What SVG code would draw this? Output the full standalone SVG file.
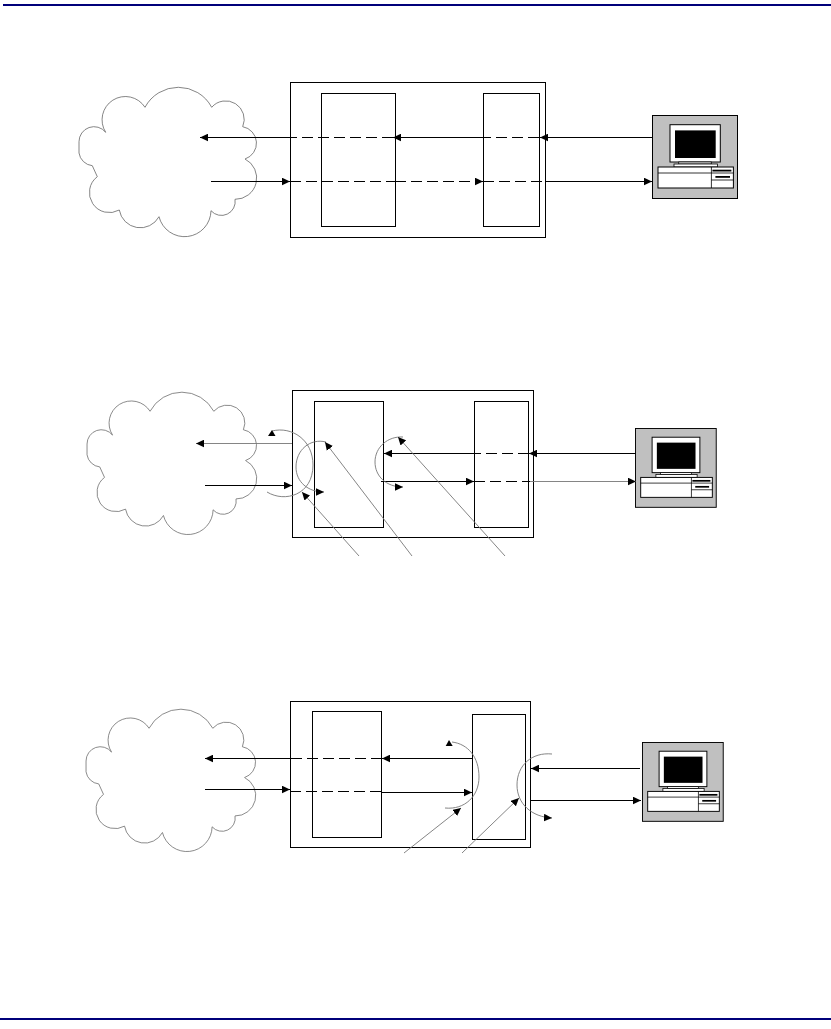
<svg xmlns="http://www.w3.org/2000/svg" width="831" height="1029" viewBox="0 0 831 1029">
<style>
.box{fill:none;stroke:#000;stroke-width:1}
.cloud{fill:#fff;stroke:#666;stroke-width:.8;vector-effect:non-scaling-stroke}
.s{fill:none;stroke:#000;stroke-width:1}
.d{fill:none;stroke:#000;stroke-width:1;stroke-dasharray:11 5}
.g{fill:none;stroke:#777;stroke-width:.9}
.a{marker-end:url(#h)}
.rule{fill:#00007a}
.t{fill:#000}
</style>
<defs>
<marker id="h" markerUnits="userSpaceOnUse" markerWidth="9" markerHeight="8" refX="8" refY="4" orient="auto"><path d="M0,0.2L8,4L0,7.8z" fill="#000"/></marker>
<path id="cl" d="M145,107.3A37.8,37.8 0 0 1 211.7,107.3A18.5,18.5 0 0 1 242.7,126.7A16.7,16.7 0 0 1 245,159A21.3,21.3 0 0 1 235,199.3A13.8,13.8 0 0 1 211,210.7A26.4,26.4 0 0 1 159,216.7A21.3,21.3 0 0 1 119.3,210A20,20 0 0 1 97.3,176.7L92.3,165.7A15,15 0 0 1 79,153L79,141.7A15,15 0 0 1 105.7,132.3A22,22 0 0 1 145,107.3z"/>
<g id="pc">
<rect x=".5" y=".5" width="85" height="83" fill="#c0c0c0" stroke="#000"/>
<rect x="18" y="9.7" width="50.3" height="37.3" fill="#fff" stroke="#000"/>
<rect x="23" y="15.4" width="40.7" height="27.6" fill="#000"/>
<rect x="26.7" y="47" width="32.6" height="2" fill="#fff" stroke="#000" stroke-width=".8"/>
<rect x="22" y="49" width="43.4" height="3" fill="#fff" stroke="#000" stroke-width=".8"/>
<rect x="6" y="52" width="75.4" height="21" fill="#fff" stroke="#000"/>
<path d="M59.4,52V73M6,58H81.4M59.4,65H81.4" fill="none" stroke="#000" stroke-width=".8"/>
<rect x="60.4" y="54.7" width="19" height="1.8" fill="#000"/>
<rect x="63.4" y="61" width="14.6" height="1.8" fill="#000"/>
</g>
</defs>
<rect width="831" height="1029" fill="#fff"/>
<rect class="rule" x="3" y="4" width="828" height="2"/>
<rect class="rule" x="0" y="1018" width="831" height="2"/>

<g id="cloud-1"><use href="#cl" class="cloud"/></g>
<g id="device-1"><rect class="box" x="290.5" y="82.5" width="255" height="155"/></g>
<g id="block-1a"><rect class="box" x="321.5" y="93.5" width="74" height="133"/></g>
<g id="block-1b"><rect class="box" x="483.5" y="93.5" width="56" height="133"/></g>
<g id="pc-1"><use href="#pc" transform="translate(652,115)"/></g>

<g id="cloud-2"><use href="#cl" class="cloud" transform="translate(11.6,309) scale(.955,.953)"/></g>
<g id="device-2"><rect class="box" x="292.5" y="390.5" width="241" height="147"/></g>
<g id="block-2a"><rect class="box" x="314.5" y="401.5" width="69" height="126"/></g>
<g id="block-2b"><rect class="box" x="474.5" y="401.5" width="54" height="126"/></g>
<g id="pc-2"><use href="#pc" transform="translate(635,428) scale(.95)"/></g>

<g id="cloud-3"><use href="#cl" class="cloud" transform="translate(10.6,626) scale(.955,.953)"/></g>
<g id="device-3"><rect class="box" x="290.5" y="701.5" width="240" height="146"/></g>
<g id="block-3a"><rect class="box" x="312.5" y="711.5" width="69" height="126"/></g>
<g id="block-3b"><rect class="box" x="472.5" y="714.5" width="53" height="125"/></g>
<g id="pc-3"><use href="#pc" transform="translate(642,742) scale(.95)"/></g>

<g id="connectors">
<path class="s a" d="M652,137.5H540"/>
<path class="d" d="M539,137.5H483.5"/>
<path class="s a" d="M483.5,137.5H393"/>
<path class="d" d="M393,137.5H290.5"/>
<path class="s a" d="M290.5,137.5H200"/>
<path class="s a" d="M211,181.5H290"/>
<path class="d" d="M290,181.5H395"/>
<path class="d a" d="M395,181.5H483"/>
<path class="d" d="M483,181.5H545"/>
<path class="s a" d="M545,181.5H652"/>

<path class="s a" d="M636,453.5H529"/>
<path class="d" d="M529,453.5H474"/>
<path class="s a" d="M474,453.5H384"/>
<path class="g a" d="M292,443.5H196"/>
<path class="s a" d="M205,485.5H292"/>
<path class="s a" d="M381,481.5H474"/>
<path class="d" d="M474,481.5H530"/>
<path class="g a" d="M530,481.5H636"/>
<path class="g" d="M267,492C285,503 313,495 313,465C313,440 292,426 272,431"/>
<path class="t" d="M272,430L268,436L275.5,436z"/>
<path class="g a" d="M326,442C310,438 296,450 296,467C296,482 308,492 324,492"/>
<path class="g a" d="M403,437C388,436 375,447 375,462C375,476 386,487 403,487"/>
<path class="g a" d="M359,556L302,492"/>
<path class="g a" d="M412,556L325,442"/>
<path class="g a" d="M505,556L398,437"/>

<path class="s a" d="M472,758.5H382"/>
<path class="d" d="M382,758.5H290"/>
<path class="s a" d="M290,758.5H205"/>
<path class="s a" d="M205,789.5H290"/>
<path class="d" d="M290,791.5H381"/>
<path class="s a" d="M381,792.5H472"/>
<path class="s a" d="M640,768.5H531"/>
<path class="s a" d="M531,800.5H641"/>
<path class="g" d="M452,742C468,744 479,757 479,777C479,796 465,810 445,808"/>
<path class="t" d="M449,740L445.7,746L452.7,746z"/>
<path class="g a" d="M552,754C532,752 517,765 517,785C517,804 532,817 552,818"/>
<path class="g a" d="M404,853L461,808"/>
<path class="g a" d="M462,853L519,798"/>
</g>
</svg>
